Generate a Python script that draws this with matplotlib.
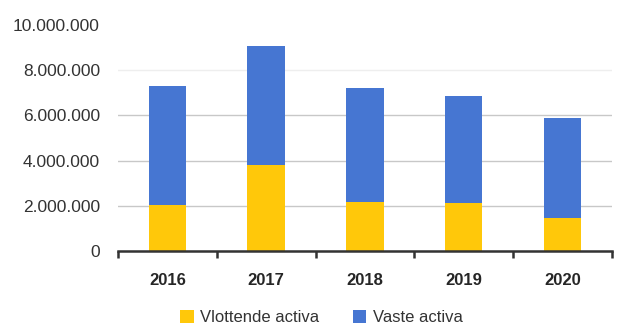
import matplotlib.pyplot as plt
import matplotlib.ticker as mticker
import numpy as np

years = ['2016', '2017', '2018', '2019', '2020']
vlottende = [2040000, 3820000, 2180000, 2140000, 1450000]
vaste = [5260000, 5250000, 5030000, 4720000, 4450000]

yellow = '#FFC80A'
blue = '#4676D2'

plt.rcParams['font.family'] = ['Liberation Sans', 'DejaVu Sans']

fig = plt.figure(figsize=(6.18, 3.29), dpi=100)
ax = fig.add_axes([0.191, 0.237, 0.799, 0.687])

x = np.arange(len(years))
ax.bar(x, vlottende, width=0.38, color=yellow, label='Vlottende activa', zorder=3)
ax.bar(x, vaste, width=0.38, bottom=vlottende, color=blue, label='Vaste activa', zorder=3)

ax.set_xlim(-0.5, len(years) - 0.5)
ax.set_ylim(0, 10000000)
ax.set_yticks(np.arange(0, 10000001, 2000000))
ax.yaxis.set_major_formatter(
    mticker.FuncFormatter(lambda v, p: f'{int(v):,}'.replace(',', '.')))

# gridlines: normal up to 6M, faint at 8M, none at 10M
ax.grid(axis='y', color='#c8c8c8', linewidth=1.0, zorder=0)
for val, gl in zip(ax.get_yticks(), ax.get_ygridlines()):
    if val == 8000000:
        gl.set_color('#eeeeee')
    elif val >= 10000000:
        gl.set_visible(False)

for s in ['top', 'right', 'left']:
    ax.spines[s].set_visible(False)
ax.spines['bottom'].set_color('#333333')
ax.spines['bottom'].set_linewidth(1.8)
ax.spines['bottom'].set_zorder(4)

ax.set_xticks(x)
ax.set_xticklabels(years, fontsize=12, fontweight='bold', color='#262626')
ax.set_xticks(np.arange(-0.5, len(years)), minor=True)
ax.tick_params(axis='x', which='major', length=0, pad=16)
ax.tick_params(axis='x', which='minor', length=5, width=1.8, color='#333333')
ax.tick_params(axis='y', length=0, labelsize=12.5, labelcolor='#333333', pad=13)

fig.legend(loc='center', bbox_to_anchor=(0.52, 0.035), ncol=2, frameon=False,
           fontsize=12, handlelength=0.8, handleheight=0.8, columnspacing=2.0,
           handletextpad=0.4, labelcolor='#333333')

fig.savefig('out.png', dpi=100)
